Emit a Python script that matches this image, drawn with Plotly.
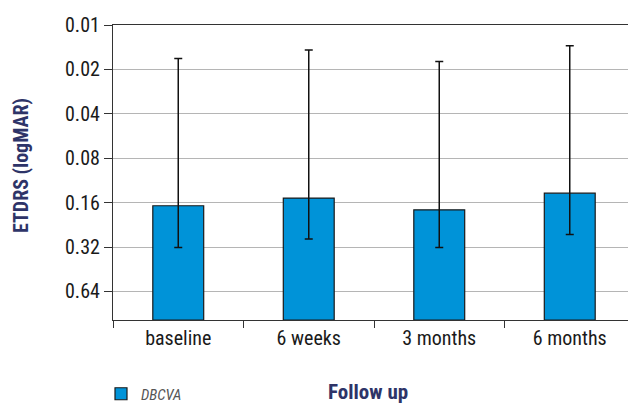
import plotly.graph_objects as go

categories = ["baseline", "6 weeks", "3 months", "6 months"]
bar_values = [0.168, 0.149, 0.179, 0.138]
err_upper_end = [0.0169, 0.0148, 0.0177, 0.0138]   # smaller logMAR end (top)
err_lower_end = [0.322, 0.282, 0.322, 0.263]       # larger logMAR end (bottom)
tick_vals = [0.01, 0.02, 0.04, 0.08, 0.16, 0.32, 0.64]
tick_text = ["0.01", "0.02", "0.04", "0.08", "0.16", "0.32", "0.64"]
axis_base = 1.0

FONT = "Roboto Condensed, Liberation Sans Narrow, Roboto, sans-serif"
NAVY = "#2E3468"
BLUE = "#0093D8"

# page has an 8px body margin, so the figure is laid out 8px smaller
OFF = 8
W, H = 636 - OFF, 403 - OFF
L, R, T, B = 113 - OFF, 1, 25 - OFF, H - (320 - OFF)

fig = go.Figure()
fig.add_trace(go.Bar(
    x=categories,
    y=[v - axis_base for v in bar_values],
    base=[axis_base] * len(categories),
    width=0.39,
    marker=dict(color=BLUE, line=dict(color="#1a1a1a", width=1.2)),
    name="<i>DBCVA</i>",
    showlegend=True,
))
fig.add_trace(go.Scatter(
    x=categories,
    y=bar_values,
    mode="markers",
    marker=dict(size=1, color="rgba(0,0,0,0)"),
    error_y=dict(
        type="data", symmetric=False,
        array=[lo - v for lo, v in zip(err_lower_end, bar_values)],
        arrayminus=[v - hi for v, hi in zip(bar_values, err_upper_end)],
        color="#111111", thickness=1.5, width=4,
    ),
    showlegend=False,
    hoverinfo="skip",
))

pw = W - L - R
ph = H - T - B
fig.update_layout(
    width=W, height=H,
    margin=dict(l=L, r=R, t=T, b=B, autoexpand=False),
    paper_bgcolor="white", plot_bgcolor="white",
    font=dict(family=FONT, size=20, color="#1a1a1a"),
    legend=dict(
        x=(101 - OFF) / W, xref="container", xanchor="left",
        y=1 - (394 - OFF) / H, yref="container", yanchor="middle",
        font=dict(family=FONT, size=15, color="#555555"),
        bgcolor="rgba(0,0,0,0)",
        itemwidth=30,
    ),
    annotations=[
        dict(text="<b>Follow up</b>", xref="paper", yref="paper",
             x=(368 - OFF - L) / pw, y=-(392 - OFF - (H - B)) / ph,
             xanchor="center", yanchor="middle", showarrow=False,
             font=dict(family=FONT, size=21, color=NAVY)),
        dict(text="<b>ETDRS (logMAR)</b>", xref="paper", yref="paper",
             x=-(L - (21 - OFF)) / pw, y=((H - B) - (166 - OFF)) / ph,
             xanchor="center", yanchor="middle", showarrow=False, textangle=-90,
             font=dict(family=FONT, size=20, color=NAVY)),
    ],
)
fig.update_xaxes(
    type="category", automargin=False, tickangle=0,
    showline=True, linecolor="#333333", linewidth=1.2, mirror=True,
    ticks="outside", tickson="boundaries", ticklen=7, tickcolor="#333333",
    showgrid=False,
    tickfont=dict(size=20),
)
fig.update_yaxes(
    type="log", range=[0, -2], automargin=False,
    tickvals=tick_vals, ticktext=tick_text,
    showline=True, linecolor="#333333", linewidth=1.2, mirror=True,
    ticks="outside", ticklen=8, tickcolor="#333333",
    showgrid=True, gridcolor="#b5b5b5", gridwidth=1,
    tickfont=dict(size=20),
    zeroline=False,
)

fig.write_html("out.html")
